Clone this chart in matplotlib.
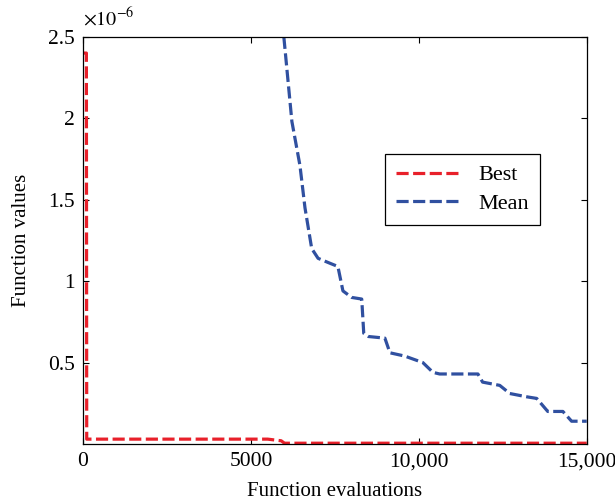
import matplotlib.pyplot as plt
from matplotlib.ticker import FuncFormatter

plt.rcParams['font.family'] = ['Liberation Serif', 'DejaVu Serif']
plt.rcParams['mathtext.fontset'] = 'stix'

# function values in units of 1e-6
best_x = [0, 100, 110, 5500, 5900, 6000, 15000]
best_y = [2.40, 2.40, 0.03, 0.03, 0.02, 0.005, 0.005]

mean_x = [5980, 6220, 6460, 6610, 6810, 7000, 7350, 7590, 7740, 8000, 8300, 8360, 8500,
          8990, 9140, 9580, 10120, 10420, 10620, 11760, 11900, 12410, 12710, 13210, 13510,
          13840, 14290, 14550, 15000]
mean_y = [2.50, 1.98, 1.71, 1.45, 1.20, 1.14, 1.11, 1.09, 0.94, 0.90, 0.89, 0.68, 0.66,
          0.65, 0.56, 0.54, 0.50, 0.44, 0.43, 0.43, 0.38, 0.36, 0.31, 0.29, 0.28,
          0.20, 0.20, 0.14, 0.14]

fig = plt.figure(figsize=(6.15, 5.04), dpi=100)
ax = fig.add_axes([0.135, 0.119, 0.819, 0.808])

ax.plot(best_x, best_y, color='#e8202a', lw=2.3, dashes=(3.8, 1.4), label='Best')
ax.plot(mean_x, mean_y, color='#3050a0', lw=2.3, dashes=(3.8, 1.4), label='Mean')

ax.set_xlim(0, 15000)
ax.set_ylim(0, 2.5)
ax.set_xticks([0, 5000, 10000, 15000])
ax.xaxis.set_major_formatter(FuncFormatter(lambda v, p: '{:,}'.format(int(v)) if v >= 10000 else str(int(v))))
ax.set_yticks([0.5, 1, 1.5, 2, 2.5])
ax.set_yticklabels(['0.5', '1', '1.5', '2', '2.5'])
ax.tick_params(direction='in', top=True, right=True, labelsize=15.5, length=4, width=0.8, pad=6)
for s in ax.spines.values():
    s.set_linewidth(0.9)

ax.text(0.0, 1.015, r'$\times10^{-6}$', transform=ax.transAxes, fontsize=14.5, ha='left', va='bottom')
ax.set_xlabel('Function evaluations', fontsize=15, labelpad=8)
ax.set_ylabel('Function values', fontsize=15, labelpad=12)

leg = ax.legend(loc='upper left', bbox_to_anchor=(0.577, 0.74), fontsize=16, fancybox=False,
                edgecolor='black', framealpha=1, handlelength=2.9, borderpad=0.5,
                labelspacing=0.35)
leg.get_frame().set_linewidth(0.9)

plt.savefig('out.png', dpi=100)
